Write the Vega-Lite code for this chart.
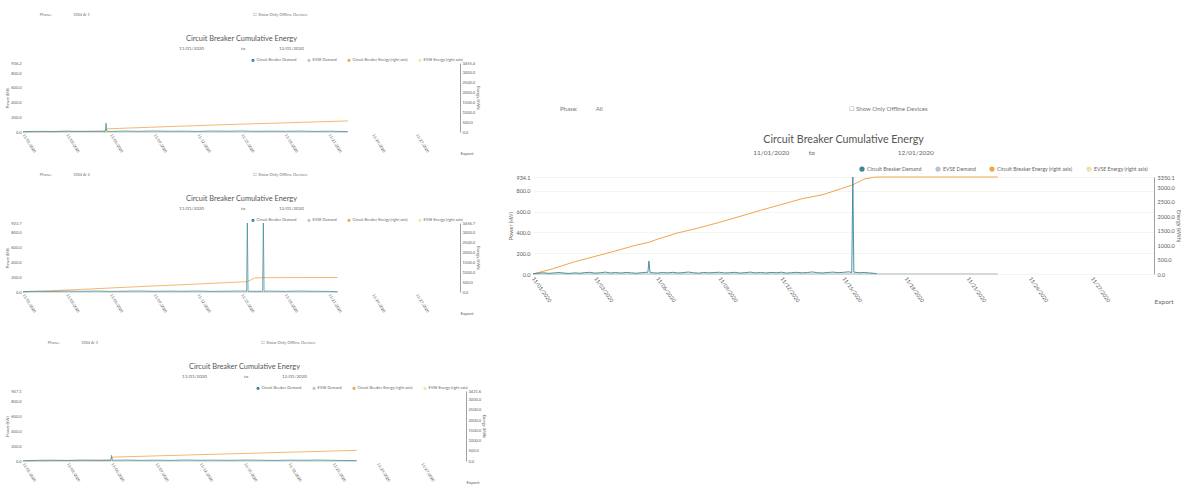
{
 "$schema": "https://vega.github.io/schema/vega-lite/v6.json",
 "background": "white",
 "padding": {"left": 5, "top": 13, "right": 0, "bottom": 0},
 "config": {
  "font": "Lato",
  "view": {"stroke": null},
  "axis": {"ticks": false, "grid": false, "domain": false, "labelColor": "#5a5a5a", "titleColor": "#666", "titleFontWeight": "normal"},
  "legend": {"title": null, "orient": "none", "direction": "horizontal", "symbolType": "circle", "labelColor": "#666"},
  "title": {"color": "#555", "fontWeight": "normal", "subtitleColor": "#666"}
 },
 "datasets": {
  "mD": [
   {"t":"2020-11-01T00:00","p":3},{"t":"2020-11-01T06:00","p":8},{"t":"2020-11-01T12:00","p":12},{"t":"2020-11-01T18:00","p":6},
   {"t":"2020-11-02T00:00","p":10},{"t":"2020-11-02T06:00","p":14},{"t":"2020-11-02T12:00","p":9},{"t":"2020-11-02T18:00","p":5},
   {"t":"2020-11-03T00:00","p":11},{"t":"2020-11-03T06:00","p":7},{"t":"2020-11-03T12:00","p":13},{"t":"2020-11-03T18:00","p":16},
   {"t":"2020-11-04T00:00","p":8},{"t":"2020-11-04T06:00","p":12},{"t":"2020-11-04T12:00","p":18},{"t":"2020-11-04T18:00","p":10},
   {"t":"2020-11-05T00:00","p":14},{"t":"2020-11-05T06:00","p":9},{"t":"2020-11-05T12:00","p":15},{"t":"2020-11-05T18:00","p":11},
   {"t":"2020-11-06T00:00","p":7},{"t":"2020-11-06T06:00","p":13},{"t":"2020-11-06T12:00","p":17},{"t":"2020-11-06T13:12","p":15},
   {"t":"2020-11-06T14:24","p":125},{"t":"2020-11-06T15:36","p":16},{"t":"2020-11-06T18:00","p":12},
   {"t":"2020-11-07T00:00","p":9},{"t":"2020-11-07T06:00","p":14},{"t":"2020-11-07T12:00","p":11},{"t":"2020-11-07T18:00","p":16},
   {"t":"2020-11-08T00:00","p":10},{"t":"2020-11-08T06:00","p":13},{"t":"2020-11-08T12:00","p":19},{"t":"2020-11-08T18:00","p":12},
   {"t":"2020-11-09T00:00","p":8},{"t":"2020-11-09T06:00","p":15},{"t":"2020-11-09T12:00","p":11},{"t":"2020-11-09T18:00","p":14},
   {"t":"2020-11-10T00:00","p":17},{"t":"2020-11-10T06:00","p":10},{"t":"2020-11-10T12:00","p":12},{"t":"2020-11-10T18:00","p":16},
   {"t":"2020-11-11T00:00","p":9},{"t":"2020-11-11T06:00","p":13},{"t":"2020-11-11T12:00","p":18},{"t":"2020-11-11T18:00","p":11},
   {"t":"2020-11-12T00:00","p":14},{"t":"2020-11-12T06:00","p":10},{"t":"2020-11-12T12:00","p":15},{"t":"2020-11-12T18:00","p":12},
   {"t":"2020-11-13T00:00","p":17},{"t":"2020-11-13T06:00","p":9},{"t":"2020-11-13T12:00","p":13},{"t":"2020-11-13T18:00","p":16},
   {"t":"2020-11-14T00:00","p":11},{"t":"2020-11-14T06:00","p":14},{"t":"2020-11-14T12:00","p":20},{"t":"2020-11-14T18:00","p":12},
   {"t":"2020-11-15T00:00","p":10},{"t":"2020-11-15T06:00","p":15},{"t":"2020-11-15T12:00","p":18},{"t":"2020-11-15T18:00","p":13},
   {"t":"2020-11-16T00:00","p":16},{"t":"2020-11-16T06:00","p":21},{"t":"2020-11-16T09:36","p":14},{"t":"2020-11-16T10:48","p":934.1},
   {"t":"2020-11-16T12:00","p":18},{"t":"2020-11-16T18:00","p":12},
   {"t":"2020-11-17T00:00","p":15},{"t":"2020-11-17T06:00","p":10},{"t":"2020-11-17T12:00","p":6},{"t":"2020-11-17T14:24","p":2}
  ],
  "mE": [
   {"t":"2020-11-01T00:00","e":0},{"t":"2020-11-02T00:00","e":190},{"t":"2020-11-03T00:00","e":420},{"t":"2020-11-04T00:00","e":610},
   {"t":"2020-11-05T00:00","e":800},{"t":"2020-11-06T00:00","e":1000},{"t":"2020-11-06T14:24","e":1093},{"t":"2020-11-07T00:00","e":1200},
   {"t":"2020-11-08T00:00","e":1420},{"t":"2020-11-09T00:00","e":1590},{"t":"2020-11-10T00:00","e":1783},{"t":"2020-11-11T00:00","e":1990},
   {"t":"2020-11-12T00:00","e":2200},{"t":"2020-11-13T00:00","e":2400},{"t":"2020-11-14T00:00","e":2600},{"t":"2020-11-15T00:00","e":2740},
   {"t":"2020-11-15T21:36","e":2950},{"t":"2020-11-16T10:48","e":3080},{"t":"2020-11-17T00:00","e":3280},{"t":"2020-11-17T12:00","e":3345},
   {"t":"2020-11-18T00:00","e":3350.1},{"t":"2020-11-23T10:48","e":3350.1}
  ],
  "mZ": [{"t":"2020-11-01T00:00","p":0,"e":0},{"t":"2020-11-23T10:48","p":0,"e":0}],
  "aD": [
   {"t":"2020-11-01T00:00","p":5},{"t":"2020-11-02T00:00","p":9},{"t":"2020-11-03T00:00","p":7},{"t":"2020-11-04T00:00","p":12},
   {"t":"2020-11-05T00:00","p":8},{"t":"2020-11-06T00:00","p":10},{"t":"2020-11-06T15:36","p":9},{"t":"2020-11-06T16:48","p":120},
   {"t":"2020-11-06T18:00","p":11},{"t":"2020-11-07T00:00","p":8},{"t":"2020-11-08T00:00","p":13},{"t":"2020-11-09T00:00","p":9},
   {"t":"2020-11-10T00:00","p":14},{"t":"2020-11-11T00:00","p":10},{"t":"2020-11-12T00:00","p":12},{"t":"2020-11-13T00:00","p":8},
   {"t":"2020-11-14T00:00","p":13},{"t":"2020-11-15T00:00","p":11},{"t":"2020-11-16T00:00","p":14},{"t":"2020-11-17T00:00","p":9},
   {"t":"2020-11-18T00:00","p":12},{"t":"2020-11-19T00:00","p":10},{"t":"2020-11-20T00:00","p":13},{"t":"2020-11-21T00:00","p":8},
   {"t":"2020-11-22T00:00","p":11},{"t":"2020-11-23T07:12","p":5}
  ],
  "aE": [
   {"t":"2020-11-01T00:00","e":0},{"t":"2020-11-06T14:24","e":40},{"t":"2020-11-06T19:12","e":160},{"t":"2020-11-11T00:00","e":270},
   {"t":"2020-11-15T00:00","e":370},{"t":"2020-11-19T00:00","e":460},{"t":"2020-11-23T07:12","e":555}
  ],
  "aZ": [{"t":"2020-11-01T00:00","p":0,"e":0},{"t":"2020-11-23T07:12","p":0,"e":0}],
  "bD": [
   {"t":"2020-11-01T00:00","p":6},{"t":"2020-11-02T00:00","p":10},{"t":"2020-11-03T00:00","p":8},{"t":"2020-11-04T00:00","p":12},
   {"t":"2020-11-05T00:00","p":9},{"t":"2020-11-06T00:00","p":13},{"t":"2020-11-07T00:00","p":8},{"t":"2020-11-08T00:00","p":11},
   {"t":"2020-11-09T00:00","p":14},{"t":"2020-11-10T00:00","p":9},{"t":"2020-11-11T00:00","p":12},{"t":"2020-11-12T00:00","p":10},
   {"t":"2020-11-13T00:00","p":13},{"t":"2020-11-14T00:00","p":8},{"t":"2020-11-15T00:00","p":11},{"t":"2020-11-16T00:00","p":14},
   {"t":"2020-11-16T08:24","p":12},{"t":"2020-11-16T09:36","p":923.7},{"t":"2020-11-16T10:48","p":10},{"t":"2020-11-17T00:00","p":9},
   {"t":"2020-11-17T10:48","p":9},{"t":"2020-11-17T12:00","p":923.7},{"t":"2020-11-17T13:12","p":11},{"t":"2020-11-18T00:00","p":12},
   {"t":"2020-11-19T00:00","p":9},{"t":"2020-11-20T00:00","p":13},{"t":"2020-11-21T00:00","p":10},{"t":"2020-11-22T00:00","p":8},
   {"t":"2020-11-22T14:24","p":4}
  ],
  "bE": [
   {"t":"2020-11-01T00:00","e":0},{"t":"2020-11-05T00:00","e":130},{"t":"2020-11-09T00:00","e":270},{"t":"2020-11-13T00:00","e":400},
   {"t":"2020-11-16T09:36","e":520},{"t":"2020-11-16T21:36","e":700},{"t":"2020-11-17T12:00","e":720},{"t":"2020-11-22T14:24","e":725}
  ],
  "bZ": [{"t":"2020-11-01T00:00","p":0,"e":0},{"t":"2020-11-22T14:24","p":0,"e":0}],
  "cD": [
   {"t":"2020-11-01T00:00","p":4},{"t":"2020-11-02T00:00","p":9},{"t":"2020-11-03T00:00","p":11},{"t":"2020-11-04T00:00","p":7},
   {"t":"2020-11-05T00:00","p":12},{"t":"2020-11-06T00:00","p":8},{"t":"2020-11-06T22:48","p":9},{"t":"2020-11-07T00:00","p":76},
   {"t":"2020-11-07T01:12","p":10},{"t":"2020-11-08T00:00","p":13},{"t":"2020-11-09T00:00","p":9},{"t":"2020-11-10T00:00","p":12},
   {"t":"2020-11-11T00:00","p":8},{"t":"2020-11-12T00:00","p":14},{"t":"2020-11-13T00:00","p":10},{"t":"2020-11-14T00:00","p":12},
   {"t":"2020-11-15T00:00","p":9},{"t":"2020-11-16T00:00","p":13},{"t":"2020-11-17T00:00","p":11},{"t":"2020-11-18T00:00","p":8},
   {"t":"2020-11-19T00:00","p":12},{"t":"2020-11-20T00:00","p":10},{"t":"2020-11-21T00:00","p":13},{"t":"2020-11-22T00:00","p":9},
   {"t":"2020-11-23T14:24","p":5}
  ],
  "cE": [
   {"t":"2020-11-01T00:00","e":0},{"t":"2020-11-06T21:36","e":50},{"t":"2020-11-07T02:24","e":190},{"t":"2020-11-11T00:00","e":270},
   {"t":"2020-11-15T00:00","e":350},{"t":"2020-11-19T00:00","e":430},{"t":"2020-11-23T14:24","e":520}
  ],
  "cZ": [{"t":"2020-11-01T00:00","p":0,"e":0},{"t":"2020-11-23T14:24","p":0,"e":0}]
 },
 "spacing": 22,
 "resolve": {"scale": {"color": "independent"}, "legend": {"color": "independent"}},
 "hconcat": [
  {
   "spacing": 25,
   "resolve": {"scale": {"color": "independent"}, "legend": {"color": "independent"}},
   "vconcat": [
    {
     "spacing": 17,
     "resolve": {"scale": {"color": "independent"}, "legend": {"color": "independent"}},
     "vconcat": [
      {
       "title": {"text": "Phase:\u2003\u2003\u2003\u2003\u2003\u2003\u2003DB4 A-1\u2003\u2003\u2003\u2003\u2003\u2003\u2003\u2003\u2003\u2003\u2003\u2003\u2003\u2003\u2003\u2003\u2003\u2003\u2003\u2003\u2003\u2003\u2003\u2003\u2003\u2003\u2003\u2003\u2003\u2003\u2003\u2003\u2003\u2003\u2003\u2003\u2003\u2003\u2003\u2003\u2003\u2003\u2003\u2003\u2003\u2003\u2003\u2003\u2003\u2003\u2003\u2003\u2610 Show Only Offline Devices", "anchor": "start", "fontSize": 4.2, "color": "#777", "dx": 34, "offset": 17},
       "vconcat": [
        {
         "width": 437, "height": 69,
         "title": {"text": "Circuit Breaker Cumulative Energy", "subtitle": "11/01/2020\u2003\u2003\u2003\u2003\u2003\u2003\u2003\u2003\u2003\u2003\u2003to\u2003\u2003\u2003\u2003\u2003\u2003\u2003\u2003\u2003\u200312/01/2020", "fontSize": 7.4, "subtitleFontSize": 4.5, "subtitlePadding": 3.5, "offset": 11},
         "encoding": {"x": {"field": "t", "type": "temporal", "title": "Export",
           "scale": {"domain": [{"year": 2020, "month": 11, "date": 1}, {"year": 2020, "month": 12, "date": 1}]},
           "axis": {"values": [{"year":2020,"month":11,"date":1},{"year":2020,"month":11,"date":4},{"year":2020,"month":11,"date":7},{"year":2020,"month":11,"date":10},{"year":2020,"month":11,"date":13},{"year":2020,"month":11,"date":16},{"year":2020,"month":11,"date":19},{"year":2020,"month":11,"date":22},{"year":2020,"month":11,"date":25},{"year":2020,"month":11,"date":28}],
            "labelExpr": "datum.index == 0 ? '11/01/2020' : timeFormat(datum.value - 86400000, '%m/%d/%Y')",
            "labelAngle": 58, "labelAlign": "left", "labelBaseline": "middle", "labelFontSize": 3.8, "labelPadding": 2, "labelOverlap": false, "labelFlush": false,
            "titleAnchor": "end", "titleAlign": "left", "titleFontSize": 4.5, "titlePadding": -2}}},
         "layer": [
          {"encoding": {"y": {"field": "e", "type": "quantitative", "scale": {"domain": [0, 3455.4], "nice": false},
             "axis": {"orient": "right", "title": "Energy (kWh)", "values": [0,500,1000,1500,2000,2500,3000,3455.4], "format": ".1f", "domain": true, "domainColor": "#888", "domainWidth": 0.8, "labelFontSize": 4, "titleFontSize": 4, "labelPadding": 2, "titlePadding": 1}}},
           "layer": [
            {"data": {"name": "aZ"}, "mark": {"type": "line", "strokeWidth": 0.8}, "encoding": {"color": {"datum": "EVSE Energy (right axis)", "type": "nominal",
              "scale": {"domain": ["Circuit Breaker Demand", "EVSE Demand", "Circuit Breaker Energy (right axis)", "EVSE Energy (right axis)"], "range": ["#3a8599", "#b3c6d8", "#f0a54a", "#efe2ae"]},
              "legend": {"legendX": 228, "legendY": -5, "symbolSize": 2, "symbolStrokeWidth": 1.8, "labelFontSize": 3.8, "columnPadding": 7, "labelOffset": 1.5, "padding": 0}}}},
            {"data": {"name": "aE"}, "mark": {"type": "line", "strokeWidth": 0.8}, "encoding": {"color": {"datum": "Circuit Breaker Energy (right axis)", "type": "nominal"}}}
           ]},
          {"encoding": {"y": {"field": "p", "type": "quantitative", "scale": {"domain": [0, 936.2], "nice": false},
             "axis": {"orient": "left", "title": "Power (kW)", "values": [0,200,400,600,800,936.2], "format": ".1f", "labelFontSize": 4, "titleFontSize": 4, "labelPadding": 2, "titlePadding": 1}}},
           "layer": [
            {"data": {"name": "aZ"}, "mark": {"type": "line", "strokeWidth": 0.8}, "encoding": {"color": {"datum": "EVSE Demand", "type": "nominal"}}},
            {"data": {"name": "aD"}, "mark": {"type": "line", "strokeWidth": 0.7}, "encoding": {"color": {"datum": "Circuit Breaker Demand", "type": "nominal"}}}
           ]}
         ],
         "resolve": {"scale": {"y": "independent"}}
        }
       ]
      },
      {
       "title": {"text": "Phase:\u2003\u2003\u2003\u2003\u2003\u2003\u2003DB4 A-2\u2003\u2003\u2003\u2003\u2003\u2003\u2003\u2003\u2003\u2003\u2003\u2003\u2003\u2003\u2003\u2003\u2003\u2003\u2003\u2003\u2003\u2003\u2003\u2003\u2003\u2003\u2003\u2003\u2003\u2003\u2003\u2003\u2003\u2003\u2003\u2003\u2003\u2003\u2003\u2003\u2003\u2003\u2003\u2003\u2003\u2003\u2003\u2003\u2003\u2003\u2003\u2003\u2610 Show Only Offline Devices", "anchor": "start", "fontSize": 4.2, "color": "#777", "dx": 34, "offset": 17},
       "vconcat": [
        {
         "width": 437, "height": 69,
         "title": {"text": "Circuit Breaker Cumulative Energy", "subtitle": "11/01/2020\u2003\u2003\u2003\u2003\u2003\u2003\u2003\u2003\u2003\u2003\u2003to\u2003\u2003\u2003\u2003\u2003\u2003\u2003\u2003\u2003\u200312/01/2020", "fontSize": 7.4, "subtitleFontSize": 4.5, "subtitlePadding": 3.5, "offset": 11},
         "encoding": {"x": {"field": "t", "type": "temporal", "title": "Export",
           "scale": {"domain": [{"year": 2020, "month": 11, "date": 1}, {"year": 2020, "month": 12, "date": 1}]},
           "axis": {"values": [{"year":2020,"month":11,"date":1},{"year":2020,"month":11,"date":4},{"year":2020,"month":11,"date":7},{"year":2020,"month":11,"date":10},{"year":2020,"month":11,"date":13},{"year":2020,"month":11,"date":16},{"year":2020,"month":11,"date":19},{"year":2020,"month":11,"date":22},{"year":2020,"month":11,"date":25},{"year":2020,"month":11,"date":28}],
            "labelExpr": "datum.index == 0 ? '11/01/2020' : timeFormat(datum.value - 86400000, '%m/%d/%Y')",
            "labelAngle": 58, "labelAlign": "left", "labelBaseline": "middle", "labelFontSize": 3.8, "labelPadding": 2, "labelOverlap": false, "labelFlush": false,
            "titleAnchor": "end", "titleAlign": "left", "titleFontSize": 4.5, "titlePadding": -2}}},
         "layer": [
          {"encoding": {"y": {"field": "e", "type": "quantitative", "scale": {"domain": [0, 3456.7], "nice": false},
             "axis": {"orient": "right", "title": "Energy (kWh)", "values": [0,500,1000,1500,2000,2500,3000,3456.7], "format": ".1f", "domain": true, "domainColor": "#888", "domainWidth": 0.8, "labelFontSize": 4, "titleFontSize": 4, "labelPadding": 2, "titlePadding": 1}}},
           "layer": [
            {"data": {"name": "bZ"}, "mark": {"type": "line", "strokeWidth": 0.8}, "encoding": {"color": {"datum": "EVSE Energy (right axis)", "type": "nominal",
              "scale": {"domain": ["Circuit Breaker Demand", "EVSE Demand", "Circuit Breaker Energy (right axis)", "EVSE Energy (right axis)"], "range": ["#3a8599", "#b3c6d8", "#f0a54a", "#efe2ae"]},
              "legend": {"legendX": 228, "legendY": -5, "symbolSize": 2, "symbolStrokeWidth": 1.8, "labelFontSize": 3.8, "columnPadding": 7, "labelOffset": 1.5, "padding": 0}}}},
            {"data": {"name": "bE"}, "mark": {"type": "line", "strokeWidth": 0.8}, "encoding": {"color": {"datum": "Circuit Breaker Energy (right axis)", "type": "nominal"}}}
           ]},
          {"encoding": {"y": {"field": "p", "type": "quantitative", "scale": {"domain": [0, 923.7], "nice": false},
             "axis": {"orient": "left", "title": "Power (kW)", "values": [0,200,400,600,800,923.7], "format": ".1f", "labelFontSize": 4, "titleFontSize": 4, "labelPadding": 2, "titlePadding": 1}}},
           "layer": [
            {"data": {"name": "bZ"}, "mark": {"type": "line", "strokeWidth": 0.8}, "encoding": {"color": {"datum": "EVSE Demand", "type": "nominal"}}},
            {"data": {"name": "bD"}, "mark": {"type": "line", "strokeWidth": 0.7}, "encoding": {"color": {"datum": "Circuit Breaker Demand", "type": "nominal"}}}
           ]}
         ],
         "resolve": {"scale": {"y": "independent"}}
        }
       ]
      }
     ]
    },
    {
     "title": {"text": "Phase:\u2003\u2003\u2003\u2003\u2003\u2003\u2003DB4 A-3\u2003\u2003\u2003\u2003\u2003\u2003\u2003\u2003\u2003\u2003\u2003\u2003\u2003\u2003\u2003\u2003\u2003\u2003\u2003\u2003\u2003\u2003\u2003\u2003\u2003\u2003\u2003\u2003\u2003\u2003\u2003\u2003\u2003\u2003\u2003\u2003\u2003\u2003\u2003\u2003\u2003\u2003\u2003\u2003\u2003\u2003\u2003\u2003\u2003\u2003\u2003\u2003\u2610 Show Only Offline Devices", "anchor": "start", "fontSize": 4.2, "color": "#777", "dx": 42, "offset": 17},
     "vconcat": [
      {
       "width": 443, "height": 70,
       "title": {"text": "Circuit Breaker Cumulative Energy", "subtitle": "11/01/2020\u2003\u2003\u2003\u2003\u2003\u2003\u2003\u2003\u2003\u2003\u2003to\u2003\u2003\u2003\u2003\u2003\u2003\u2003\u2003\u2003\u200312/01/2020", "fontSize": 7.4, "subtitleFontSize": 4.5, "subtitlePadding": 3.5, "offset": 11},
       "encoding": {"x": {"field": "t", "type": "temporal", "title": "Export",
         "scale": {"domain": [{"year": 2020, "month": 11, "date": 1}, {"year": 2020, "month": 12, "date": 1}]},
         "axis": {"values": [{"year":2020,"month":11,"date":1},{"year":2020,"month":11,"date":4},{"year":2020,"month":11,"date":7},{"year":2020,"month":11,"date":10},{"year":2020,"month":11,"date":13},{"year":2020,"month":11,"date":16},{"year":2020,"month":11,"date":19},{"year":2020,"month":11,"date":22},{"year":2020,"month":11,"date":25},{"year":2020,"month":11,"date":28}],
          "labelExpr": "datum.index == 0 ? '11/01/2020' : timeFormat(datum.value - 86400000, '%m/%d/%Y')",
          "labelAngle": 58, "labelAlign": "left", "labelBaseline": "middle", "labelFontSize": 3.8, "labelPadding": 2, "labelOverlap": false, "labelFlush": false,
          "titleAnchor": "end", "titleAlign": "left", "titleFontSize": 4.5, "titlePadding": -2}}},
       "layer": [
        {"encoding": {"y": {"field": "e", "type": "quantitative", "scale": {"domain": [0, 3421.6], "nice": false},
           "axis": {"orient": "right", "title": "Energy (kWh)", "values": [0,500,1000,1500,2000,2500,3000,3421.6], "format": ".1f", "domain": true, "domainColor": "#888", "domainWidth": 0.8, "labelFontSize": 4, "titleFontSize": 4, "labelPadding": 2, "titlePadding": 1}}},
         "layer": [
          {"data": {"name": "cZ"}, "mark": {"type": "line", "strokeWidth": 0.8}, "encoding": {"color": {"datum": "EVSE Energy (right axis)", "type": "nominal",
            "scale": {"domain": ["Circuit Breaker Demand", "EVSE Demand", "Circuit Breaker Energy (right axis)", "EVSE Energy (right axis)"], "range": ["#3a8599", "#b3c6d8", "#f0a54a", "#efe2ae"]},
            "legend": {"legendX": 233, "legendY": -5, "symbolSize": 2, "symbolStrokeWidth": 1.8, "labelFontSize": 3.8, "columnPadding": 7, "labelOffset": 1.5, "padding": 0}}}},
          {"data": {"name": "cE"}, "mark": {"type": "line", "strokeWidth": 0.8}, "encoding": {"color": {"datum": "Circuit Breaker Energy (right axis)", "type": "nominal"}}}
         ]},
        {"encoding": {"y": {"field": "p", "type": "quantitative", "scale": {"domain": [0, 947.1], "nice": false},
           "axis": {"orient": "left", "title": "Power (kW)", "values": [0,200,400,600,800,947.1], "format": ".1f", "labelFontSize": 4, "titleFontSize": 4, "labelPadding": 2, "titlePadding": 1}}},
         "layer": [
          {"data": {"name": "cZ"}, "mark": {"type": "line", "strokeWidth": 0.8}, "encoding": {"color": {"datum": "EVSE Demand", "type": "nominal"}}},
          {"data": {"name": "cD"}, "mark": {"type": "line", "strokeWidth": 0.7}, "encoding": {"color": {"datum": "Circuit Breaker Demand", "type": "nominal"}}}
         ]}
       ],
       "resolve": {"scale": {"y": "independent"}}
      }
     ]
    }
   ]
  },
  {
   "spacing": 10,
   "resolve": {"scale": {"color": "independent"}, "legend": {"color": "independent"}},
   "vconcat": [
    {"width": 10, "height": 32, "data": {"values": [{}]}, "mark": {"type": "text"}, "encoding": {}},
    {
     "title": {"text": "Phase:\u2003\u2003\u2003\u2003All\u2003\u2003\u2003\u2003\u2003\u2003\u2003\u2003\u2003\u2003\u2003\u2003\u2003\u2003\u2003\u2003\u2003\u2003\u2003\u2003\u2003\u2003\u2003\u2003\u2003\u2003\u2003\u2003\u2003\u2003\u2003\u2003\u2003\u2003\u2003\u2003\u2003\u2003\u2003\u2003\u2003\u2003\u2003\u2003\u2003\u2003\u2003\u2003\u2003\u2003\u2003\u2003\u2003\u2003\u2610  Show Only Offline Devices", "anchor": "start", "fontSize": 6.1, "color": "#777", "dx": 51, "offset": 22},
     "vconcat": [
      {
       "width": 621, "height": 97,
       "title": {"text": "Circuit Breaker Cumulative Energy", "subtitle": "11/01/2020\u2003\u2003\u2003\u2003to\u2003\u2003\u2003\u2003\u2003\u2003\u2003\u2003\u2003\u2003\u2003\u2003\u2003\u2003\u2003\u2003\u200312/01/2020", "fontSize": 10.7, "subtitleFontSize": 6.5, "subtitlePadding": 4, "offset": 18},
       "encoding": {"x": {"field": "t", "type": "temporal", "title": "Export",
         "scale": {"domain": [{"year": 2020, "month": 11, "date": 1}, {"year": 2020, "month": 12, "date": 1}]},
         "axis": {"values": [{"year":2020,"month":11,"date":1},{"year":2020,"month":11,"date":4},{"year":2020,"month":11,"date":7},{"year":2020,"month":11,"date":10},{"year":2020,"month":11,"date":13},{"year":2020,"month":11,"date":16},{"year":2020,"month":11,"date":19},{"year":2020,"month":11,"date":22},{"year":2020,"month":11,"date":25},{"year":2020,"month":11,"date":28}],
          "labelExpr": "datum.index == 0 ? '11/01/2020' : timeFormat(datum.value - 86400000, '%m/%d/%Y')",
          "labelAngle": 55, "labelAlign": "left", "labelBaseline": "middle", "labelFontSize": 5.3, "labelPadding": 3, "labelOverlap": false, "labelFlush": false,
          "titleAnchor": "end", "titleAlign": "left", "titleFontSize": 6.5, "titlePadding": -4}}},
       "layer": [
        {"encoding": {"y": {"field": "e", "type": "quantitative", "scale": {"domain": [0, 3350.1], "nice": false},
           "axis": {"orient": "right", "title": "Energy (kWh)", "values": [0,500,1000,1500,2000,2500,3000,3350.1], "format": ".1f", "domain": true, "domainColor": "#888", "domainWidth": 0.8, "labelFontSize": 5.5, "titleFontSize": 5.5, "labelPadding": 3, "titlePadding": 1}}},
         "layer": [
          {"data": {"name": "mZ"}, "mark": {"type": "line", "strokeWidth": 1}, "encoding": {"color": {"datum": "EVSE Energy (right axis)", "type": "nominal",
            "scale": {"domain": ["Circuit Breaker Demand", "EVSE Demand", "Circuit Breaker Energy (right axis)", "EVSE Energy (right axis)"], "range": ["#3a8599", "#b3c6d8", "#f0a54a", "#efe2ae"]},
            "legend": {"legendX": 326, "legendY": -11, "symbolSize": 6, "symbolStrokeWidth": 2.8, "labelFontSize": 5.2, "columnPadding": 9, "labelOffset": 2, "padding": 0}}}},
          {"data": {"name": "mE"}, "mark": {"type": "line", "strokeWidth": 1}, "encoding": {"color": {"datum": "Circuit Breaker Energy (right axis)", "type": "nominal"}}}
         ]},
        {"encoding": {"y": {"field": "p", "type": "quantitative", "scale": {"domain": [0, 934.1], "nice": false},
           "axis": {"orient": "left", "title": "Power (kW)", "values": [0,200,400,600,800,934.1], "format": ".1f", "labelFontSize": 5.5, "titleFontSize": 5.5, "labelPadding": 3, "titlePadding": 2, "grid": true, "gridColor": "#f4f4f4"}}},
         "layer": [
          {"data": {"name": "mZ"}, "mark": {"type": "line", "strokeWidth": 1}, "encoding": {"color": {"datum": "EVSE Demand", "type": "nominal"}}},
          {"data": {"name": "mD"}, "mark": {"type": "line", "strokeWidth": 0.9}, "encoding": {"color": {"datum": "Circuit Breaker Demand", "type": "nominal"}}}
         ]}
       ],
       "resolve": {"scale": {"y": "independent"}}
      }
     ]
    }
   ]
  }
 ]
}
